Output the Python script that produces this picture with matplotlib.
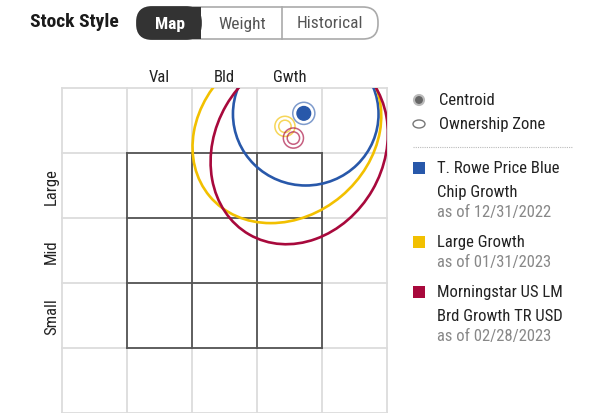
import matplotlib
matplotlib.use("Agg")
import matplotlib.pyplot as plt
from matplotlib import font_manager
from matplotlib.patches import Ellipse, Rectangle, FancyBboxPatch

# narrow font if available, otherwise plain Roboto
names = set(f.name for f in font_manager.fontManager.ttflist)
font = "Roboto"
for cand in ["Roboto Condensed", "Archivo Narrow", "PT Sans Narrow", "Liberation Sans Narrow"]:
    if cand in names:
        font = cand
        break
plt.rcParams['font.family'] = [font, 'DejaVu Sans']

# data (grid units: inner style box runs 0..3, Val->Gwth, Small->Large)
series = [["T. Rowe Price Blue", "Chip Growth"], ["Large Growth"], ["Morningstar US LM", "Brd Growth TR USD"]]
as_of = ["as of 12/31/2022", "as of 01/31/2023", "as of 02/28/2023"]
colors = ["#2858aa", "#f2c000", "#a8093c"]
centroid_x = [2.72, 2.43, 2.56]
centroid_y = [3.61, 3.41, 3.23]
zone_x = [2.75, 2.46, 2.65]
zone_y = [3.60, 3.33, 3.08]
zone_w = [2.24, 3.10, 3.08]
zone_h = [2.20, 2.60, 2.60]
zone_angle = [0, 40, 60]
style_labels = ["Val", "Bld", "Gwth"]
size_labels = ["Small", "Mid", "Large"]
tabs = ["Map", "Weight", "Historical"]

W, H = 593, 414
fig = plt.figure(figsize=(W / 100, H / 100), dpi=100)

# overlay in pixel coords for header / legend
ov = fig.add_axes([0, 0, 1, 1])
ov.set_xlim(0, W)
ov.set_ylim(H, 0)
ov.axis('off')

# grid axes
gl, gt, gsz = 62, 89, 325
ax = fig.add_axes([gl / W, (H - gt - gsz) / H, gsz / W, gsz / H])
ax.set_xlim(-1, 4)
ax.set_ylim(-1, 4)
ax.axis('off')

for k in range(-1, 5):
    ax.plot([k, k], [-1, 4], color="#dcdcdc", lw=1.3, zorder=1, clip_on=False)
    ax.plot([-1, 4], [k, k], color="#dcdcdc", lw=1.3, zorder=1, clip_on=False)
for k in range(0, 4):
    ax.plot([k, k], [0, 3], color="#555555", lw=1.3, zorder=2)
    ax.plot([0, 3], [k, k], color="#555555", lw=1.3, zorder=2)

clip = Rectangle((-1, -1), 5, 5, transform=ax.transData, visible=False)
ax.add_patch(clip)

for i in range(3):
    e = Ellipse((zone_x[i], zone_y[i]), zone_w[i], zone_h[i], angle=zone_angle[i],
                fill=False, ec=colors[i], lw=1.9, zorder=3)
    ax.add_patch(e)
    e.set_clip_path(clip)

# centroids: fund is filled, others are rings
for i in range(3):
    cx, cy = centroid_x[i], centroid_y[i]
    if i == 0:
        ax.add_patch(Ellipse((cx, cy), 0.21, 0.21, color=colors[i], zorder=5))
        ax.add_patch(Ellipse((cx, cy), 0.34, 0.34, fill=False, ec=colors[i], lw=1.1, alpha=0.6, zorder=5))
    else:
        for r in (0.19, 0.31):
            ax.add_patch(Ellipse((cx, cy), r, r, fill=False, ec=colors[i], lw=1.1, alpha=0.65, zorder=4))

for j, lab in enumerate(style_labels):
    ax.text(j + 0.5, 4.18, lab, ha='center', va='center', fontsize=12, color="#222222")
for j, lab in enumerate(size_labels):
    ax.text(-1.16, j + 0.5, lab, ha='center', va='center', fontsize=12, color="#222222", rotation=90)

# header
ov.text(30, 22, "Stock Style", fontsize=14, fontweight='bold', color="#1a1a1a", va='center')
pill = FancyBboxPatch((137, 8), 241, 32, boxstyle="round,pad=0,rounding_size=15",
                      fc="white", ec="#aaaaaa", lw=1.2)
ov.add_patch(pill)
dark = FancyBboxPatch((137, 8), 64, 32, boxstyle="round,pad=0,rounding_size=15",
                      fc="#333333", ec="#333333", lw=1.2)
ov.add_patch(dark)
ov.add_patch(Rectangle((180, 8), 21, 32, fc="#333333", ec="none"))
ov.plot([282, 282], [8, 40], color="#aaaaaa", lw=1.2)
tab_x = [170, 242, 330]
for j, t in enumerate(tabs):
    ov.text(tab_x[j], 24, t, ha='center', va='center', fontsize=12.5,
            color="white" if j == 0 else "#555555", fontweight='bold' if j == 0 else 'normal')

# legend
ov.add_patch(Ellipse((419, 101), 10, 10, fc="#666666", ec="#bbbbbb", lw=1.5))
ov.text(439, 101, "Centroid", va='center', fontsize=12, color="#222222")
ov.add_patch(Ellipse((419, 125), 12, 8, fill=False, ec="#777777", lw=1.0))
ov.text(439, 125, "Ownership Zone", va='center', fontsize=12, color="#222222")
ov.plot([413, 573], [148, 148], color="#bbbbbb", lw=0.8, ls=(0, (1, 1)))

leg_y = [169, 243, 293]
for i in range(3):
    y = leg_y[i]
    ov.add_patch(Rectangle((413, y - 6), 12, 12, fc=colors[i], ec="none"))
    for k, line in enumerate(series[i]):
        ov.text(437, y + 24 * k, line, va='center', fontsize=12, color="#222222")
    ov.text(437, y + 24 * len(series[i]) - 4, as_of[i], va='center', fontsize=12, color="#888888")

fig.savefig("out.png", dpi=100)
